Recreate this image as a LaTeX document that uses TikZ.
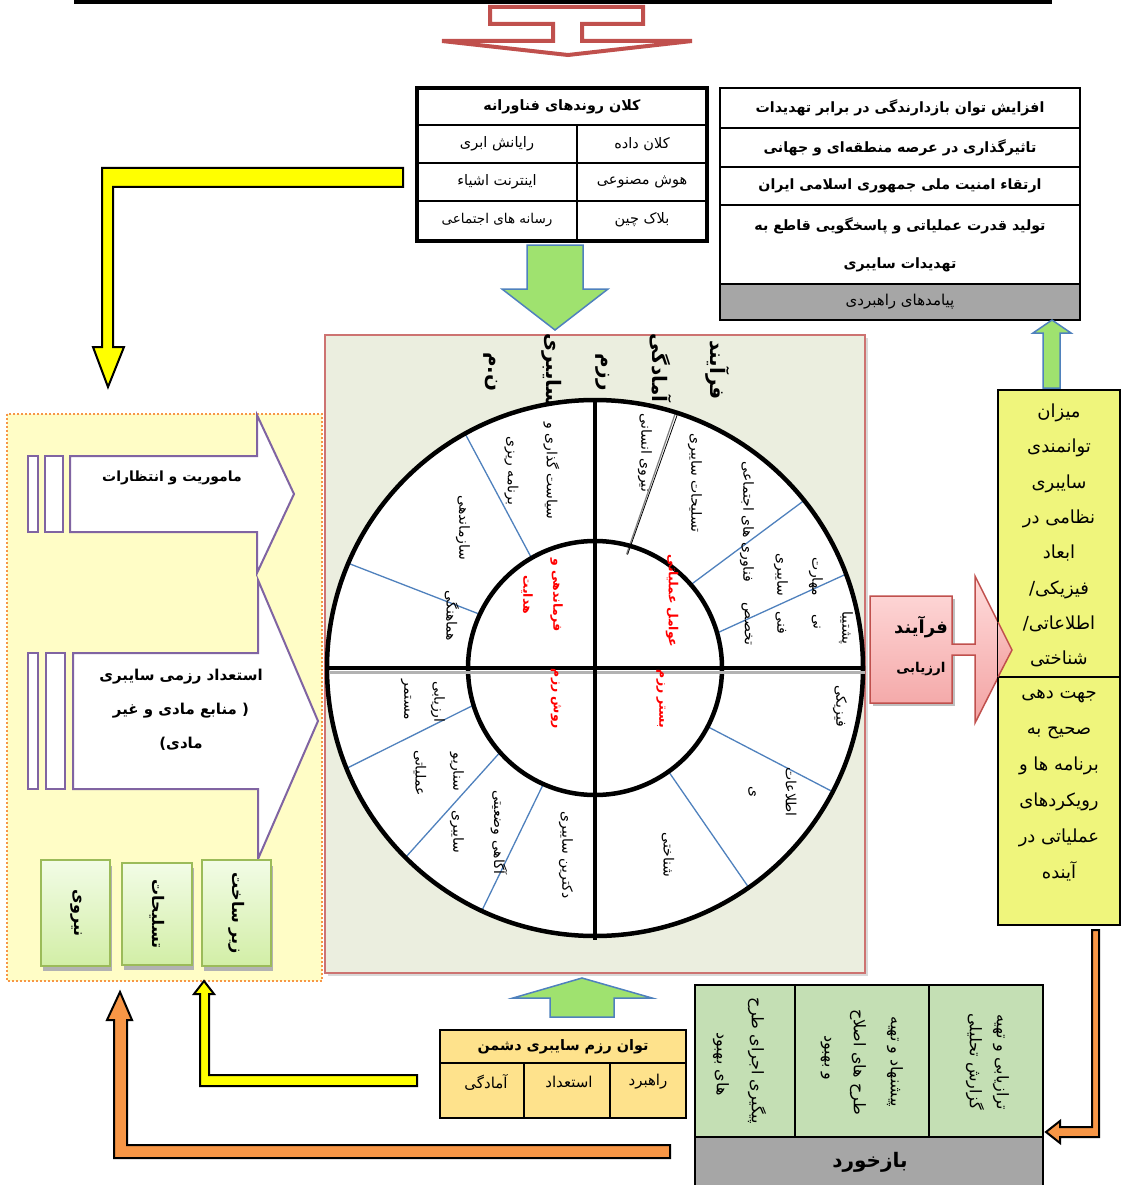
\documentclass[tikz,border=0pt]{standalone}
\usepackage{fontspec}
\newfontfamily\fa[Script=Arabic]{DejaVu Sans}
\TeXXeTstate=1
\newcommand\RL[1]{\beginR#1\endR}
\definecolor{cRed}{HTML}{C0504D}
\definecolor{cPanel}{HTML}{EBEEDF}
\definecolor{cBlue}{HTML}{4F81BD}
\definecolor{cGreenA}{HTML}{9FE26F}
\definecolor{cYelBox}{HTML}{EFF57C}
\definecolor{cLeft}{HTML}{FFFDC6}
\definecolor{cOrange}{HTML}{F79646}
\definecolor{cPurple}{HTML}{8064A2}
\definecolor{cGBord}{HTML}{9BBB59}
\definecolor{cGTop}{HTML}{F2FCE6}
\definecolor{cGBot}{HTML}{D2EEA6}
\definecolor{cFeed}{HTML}{C4DFB4}
\definecolor{cGray}{HTML}{A6A6A6}
\definecolor{cEnemy}{HTML}{FEE28C}
\definecolor{cPinkT}{HTML}{FFDCDC}
\definecolor{cPinkB}{HTML}{F3A2A2}
\definecolor{cYellow}{HTML}{FFFF00}
\tikzset{
  fs/.style 2 args={font=\fa\fontsize{#1}{#2}\selectfont},
  fsb/.style 2 args={font=\fa\bfseries\fontsize{#1}{#2}\selectfont},
  tx/.style={inner sep=0pt, align=center},
  ring/.style={tx, fs={14}{18}, rotate=-90},
  ringred/.style={tx, fsb={12.5}{30}, rotate=-90, text=red},
  ttl/.style={tx, fsb={20}{22}, rotate=-90},
  blueline/.style={draw=cBlue, line width=1.3},
  thick5/.style={line width=4.5, black},
  garrow/.style={fill=cGreenA, draw=cBlue, line width=1.5},
  yarrow/.style={fill=cYellow, draw=black, line width=2},
  oarrow/.style={fill=cOrange, draw=black, line width=2},
  parrow/.style={fill=white, draw=cPurple, line width=2},
  gbox/.style={top color=cGTop, bottom color=cGBot, draw=cGBord, line width=1.8},
  fbtext/.style={tx, fs={16}{18}, rotate=-90},
}
\begin{document}
\begin{tikzpicture}[x=1pt,y=-1pt]
\useasboundingbox (0,0) rectangle (1124,1185);
% top line
\coordinate (tla) at (74,2); \coordinate (tlb) at (1052,2);
\draw[line width=3.5] (tla) -- (tlb);
% red hollow arrow
\draw[draw=cRed, line width=4, fill=white, line join=miter]
  (490,7) -- (643,7) -- (643,24) -- (582,24) -- (582,41) -- (692,41) -- (568,55)
  -- (442,41) -- (553,41) -- (553,24) -- (490,24) -- cycle;

% ===== top table: technology trends
\fill[white] (417,88) rectangle (707,241);
\draw[line width=1.5] (417,125) -- (707,125) (417,163) -- (707,163) (417,201) -- (707,201) (577,125) -- (577,241);
\draw[line width=3.5] (417,88) rectangle (707,241);
\node[tx, fsb={14.3}{16}] (kh) at (562,107) {\RL{کلان روندهای فناورانه}};
\node[tx, fs={14.5}{16}] (k1) at (642,144) {\RL{کلان داده}};
\node[tx, fs={14.5}{16}] (k2) at (497,144) {\RL{رایانش ابری}};
\node[tx, fs={14.5}{16}] (k3) at (642,182) {\RL{هوش مصنوعی}};
\node[tx, fs={14.5}{16}] (k4) at (497,182) {\RL{اینترنت اشیاء}};
\node[tx, fs={14.5}{16}] (k5) at (642,220) {\RL{بلاک چین}};
\node[tx, fs={13.5}{16}] (k6) at (497,220) {\RL{رسانه های اجتماعی}};
% green down arrow
\draw[garrow] (527,245) -- (583,245) -- (583,289) -- (608,289) -- (555,330) -- (502,289) -- (527,289) -- cycle;

% ===== top right table: strategic outcomes
\fill[white] (720,88) rectangle (1080,284);
\fill[cGray] (720,284) rectangle (1080,320);
\draw[line width=2] (720,128) -- (1080,128) (720,167) -- (1080,167) (720,205) -- (1080,205) (720,284) -- (1080,284);
\draw[line width=2.5] (720,88) rectangle (1080,320);
\node[tx, fsb={14.2}{16}] (p1) at (900,108) {\RL{افزایش توان بازدارندگی در برابر تهدیدات}};
\node[tx, fsb={14.2}{16}] (p2) at (900,148) {\RL{تاثیرگذاری در عرصه منطقه‌ای و جهانی}};
\node[tx, fsb={14.2}{16}] (p3) at (900,186) {\RL{ارتقاء امنیت ملی جمهوری اسلامی ایران}};
\node[tx, fsb={14.2}{38}] (p4) at (900,245) {\RL{تولید قدرت عملیاتی و پاسخگویی قاطع به}\\\RL{تهدیدات سایبری}};
\node[tx, fs={15}{16}] (p5) at (900,302) {\RL{پیامدهای راهبردی}};
% small green up arrow
\draw[garrow] (1043,388) -- (1060,388) -- (1060,333) -- (1071,333) -- (1052,320) -- (1033,333) -- (1043,333) -- cycle;

% ===== main panel
\fill[gray!30] (328,338) rectangle (868,976);
\draw[draw=cRed!80, line width=1.8, fill=cPanel] (325,335) rectangle (865,973);
\begin{scope}[shift={(595,668)}, y=1pt]
  \fill[white] (0,0) circle (268);
  \draw[blueline] (120:127) -- (119:268);
  \draw[blueline] (155:127) -- (157:268);
  \draw[black!50, line width=1.2] (74.5:118) -- (72.5:268);
  \draw[black, line width=0.8] (74:118) -- (72:268);
  \draw[blueline] (41:127) -- (38.7:268);
  \draw[blueline] (16:127) -- (20.5:268);
  \draw[blueline] (-27.5:127) -- (-27.5:268);
  \draw[blueline] (-54.6:127) -- (-55:268);
  \draw[blueline] (-114:127) -- (-115:268);
  \draw[blueline] (221.6:127) -- (225:268);
  \draw[blueline] (197:127) -- (202:268);
  \draw[thick5] (0,0) circle (127);
  \draw[thick5] (0,0) circle (268);
  \draw[gray!60, line width=3] (-266,-4) -- (270,-4);
  \draw[thick5] (-266,0) -- (270,0);
  \draw[thick5] (0,270) -- (0,-272);
\end{scope}
% title
\node[ttl] (ti1) at (718,370) {\RL{فرآیند}};
\node[ttl] (ti2) at (661,368) {\RL{آمادگی}};
\node[ttl] (ti3) at (603,372) {\RL{رزم}};
\node[ttl] (ti4) at (552,370) {\RL{سایبری}};
\node[ttl] (ti5) at (491,372) {\RL{ن.م}};
% upper-left
\node[ring] (r1) at (532,471) {\RL{سیاست گذاری و}\\[21pt]\RL{برنامه ریزی}};
\node[ring] (r2) at (463,528) {\RL{سازماندهی}};
\node[ring] (r3) at (452,616) {\RL{هماهنگی}};
\node[ringred] (c1) at (542,595) {\RL{فرماندهی و}\\\RL{هدایت}};
% upper-right
\node[ring] (r4) at (645,453) {\RL{نیروی انسانی}};
\node[ring] (r5) at (695,483) {\RL{تسلیحات سایبری}};
\node[ring] (r6) at (747,522) {\RL{فناوری های اجتماعی}};
\node[ring] (r7) at (747,624) {\RL{تخصص}};
\node[ring] (r8) at (781,575) {\RL{سایبری}};
\node[ring] (r9) at (781,623) {\RL{فنی}};
\node[ring] (r10) at (816,577) {\RL{مهارت}};
\node[ring] (r11) at (816,622) {\RL{نی}};
\node[ring] (r12) at (846,628) {\RL{پشتیبا}};
\node[ringred] (c2) at (672,601) {\RL{عوامل عملیاتی}};
% lower-right
\node[ringred] (c3) at (661,699) {\RL{بستر رزم}};
\node[ring] (r13) at (840,706) {\RL{فیزیکی}};
\node[ring] (r14) at (791,792) {\RL{اطلاعات}};
\node[ring] (r15) at (752,792) {\RL{ی}};
\node[ring] (r16) at (668,855) {\RL{شناختی}};
% lower-left
\node[ringred] (c4) at (556,699) {\RL{روش رزم}};
\node[ring] (r17) at (566,855) {\RL{دکترین سایبری}};
\node[ring] (r18) at (499,832) {\RL{آگاهی وضعیتی}};
\node[ring] (r19) at (457,772) {\RL{سناریو}};
\node[ring] (r20) at (457,832) {\RL{سایبری}};
\node[ring] (r21) at (420,773) {\RL{عملیاتی}};
\node[ring] (r22) at (438,702) {\RL{ارزیابی}};
\node[ring] (r23) at (406,700) {\RL{مستمر}};

% ===== pink evaluation arrow
\fill[gray!50] (873,599) rectangle (955,706);
\shade[top color=cPinkT, bottom color=cPinkB]
  (870,596) -- (952,596) -- (952,644) -- (975,644) -- (975,576) -- (1012,650)
  -- (975,723) -- (975,655) -- (952,655) -- (952,703) -- (870,703) -- cycle;
\draw[cRed, line width=1.5] (870,596) -- (952,596) -- (952,644) -- (975,644) -- (975,576) -- (1012,650)
  -- (975,723) -- (975,655) -- (952,655) -- (952,703) -- (870,703) -- cycle;

% ===== yellow result box
\draw[fill=cYelBox, line width=2] (998,390) rectangle (1120,925);
\draw[line width=1.5] (998,677) -- (1120,677);
% pink head tip over yellow box
\shade[top color=cPinkT!60!cPinkB, bottom color=cPinkB]
  (998,622) -- (1012,650) -- (998,677) -- cycle;
\draw[cRed, line width=1.5] (998,622) -- (1012,650) -- (998,677);
\node[tx, fsb={18}{20}] (ev) at (921,627) {\RL{فرآیند}};
\node[tx, fsb={13.5}{16}] (ev2) at (921,669) {\RL{ارزیابی}};
\node[tx, fs={18}{35.3}] (y1) at (1059,535.5) {\RL{میزان}\\\RL{توانمندی}\\\RL{سایبری}\\\RL{نظامی در}\\\RL{ابعاد}\\\RL{فیزیکی/}\\\RL{اطلاعاتی/}\\\RL{شناختی}};
\node[tx, fs={18}{36}] (y2) at (1059,785) {\RL{جهت دهی}\\\RL{صحیح به}\\\RL{برنامه ها و}\\\RL{رویکردهای}\\\RL{عملیاتی در}\\\RL{آینده}};
% orange arrow right side
\draw[oarrow] (1092,930) -- (1099,930) -- (1099,1137) -- (1060,1137) -- (1060,1143) -- (1046,1132)
  -- (1060,1121) -- (1060,1127) -- (1092,1127) -- cycle;

% ===== feedback box
\fill[cFeed] (695,985) rectangle (1043,1137);
\fill[cGray] (695,1137) rectangle (1043,1185);
\draw[line width=2] (695,1185) -- (695,985) -- (1043,985) -- (1043,1185) (695,1137) -- (1043,1137) (795,985) -- (795,1137) (929,985) -- (929,1137);
\node[tx, fsb={20}{22}] (fb) at (870,1162) {\RL{بازخورد}};
\node[fbtext] (f1) at (1001,1062) {\RL{ترازیابی و تهیه}};
\node[fbtext] (f2) at (975,1062) {\RL{گزارش تحلیلی}};
\node[fbtext] (f3) at (895,1062) {\RL{پیشنهاد و تهیه}};
\node[fbtext] (f4) at (858,1062) {\RL{طرح های اصلاح}};
\node[fbtext] (f5) at (826,1058) {\RL{و بهبود}};
\node[fbtext] (f6) at (757,1061) {\RL{پیگیری اجرای طرح}};
\node[fbtext] (f7) at (721,1064) {\RL{های بهبود}};

% ===== enemy table
\fill[cEnemy] (440,1030) rectangle (686,1118);
\draw[line width=2] (440,1030) rectangle (686,1118) (440,1063) -- (686,1063) (524,1063) -- (524,1118) (610,1063) -- (610,1118);
\node[tx, fsb={14.4}{16}] (e0) at (563,1047) {\RL{توان رزم سایبری دشمن}};
\node[tx, fs={15}{16}] (e1) at (648,1082) {\RL{راهبرد}};
\node[tx, fs={15}{16}] (e2) at (569,1082) {\RL{استعداد}};
\node[tx, fs={15}{16}] (e3) at (486,1082) {\RL{آمادگی}};
% green up arrow bottom
\draw[garrow] (550,1017) -- (614,1017) -- (614,998) -- (652,998) -- (582,978) -- (513,998) -- (550,998) -- cycle;

% ===== left panel
\draw[draw=cOrange, line width=2, dotted, fill=cLeft] (7,414) rectangle (322,981);
\draw[parrow] (28,456) rectangle (38,532);
\draw[parrow] (45,456) rectangle (63,532);
\draw[parrow] (70,456) -- (257,456) -- (257,415) -- (294,494) -- (257,573) -- (257,532) -- (70,532) -- cycle;
\draw[parrow] (28,653) rectangle (38,789);
\draw[parrow] (46,653) rectangle (65,789);
\draw[parrow] (73,653) -- (258,653) -- (258,580) -- (318,721) -- (258,859) -- (258,789) -- (73,789) -- cycle;
\node[tx, fsb={14}{16}] (m1) at (172,478) {\RL{ماموریت و انتظارات}};
\node[tx, fsb={15}{34}] (m2) at (181,710) {\RL{استعداد رزمی سایبری}\\\RL{( منابع مادی و غیر}\\\RL{مادی)}};
% green boxes
\fill[gray!60] (43,866) rectangle (112,971);
\fill[gray!60] (124,868) rectangle (194,970);
\fill[gray!60] (204,866) rectangle (273,971);
\shade[gbox] (41,860) rectangle (110,966);
\shade[gbox] (122,863) rectangle (192,965);
\shade[gbox] (202,860) rectangle (271,966);
\draw[cGBord, line width=1.8] (41,860) rectangle (110,966) (122,863) rectangle (192,965) (202,860) rectangle (271,966);
\node[tx, fsb={16}{18}, rotate=-90] (g1) at (76,913) {\RL{نیروی}};
\node[tx, fsb={16}{18}, rotate=-90] (g2) at (157,914) {\RL{تسلیحات}};
\node[tx, fsb={16}{18}, rotate=-90] (g3) at (237,913) {\RL{زیر ساخت}};

% ===== yellow / orange connectors
\draw[yarrow] (403,168) -- (403,187) -- (113,187) -- (113,347) -- (124,347) -- (108,387) -- (93,347) -- (102,347) -- (102,168) -- cycle;
\draw[yarrow] (417,1075) -- (417,1086) -- (200,1086) -- (200,994) -- (194,994) -- (204,981) -- (214,994) -- (209,994) -- (209,1075) -- cycle;
\draw[oarrow] (670,1145) -- (670,1158) -- (114,1158) -- (114,1020) -- (107,1020) -- (120,992) -- (132,1020) -- (127,1020) -- (127,1145) -- cycle;
\end{tikzpicture}
\end{document}
